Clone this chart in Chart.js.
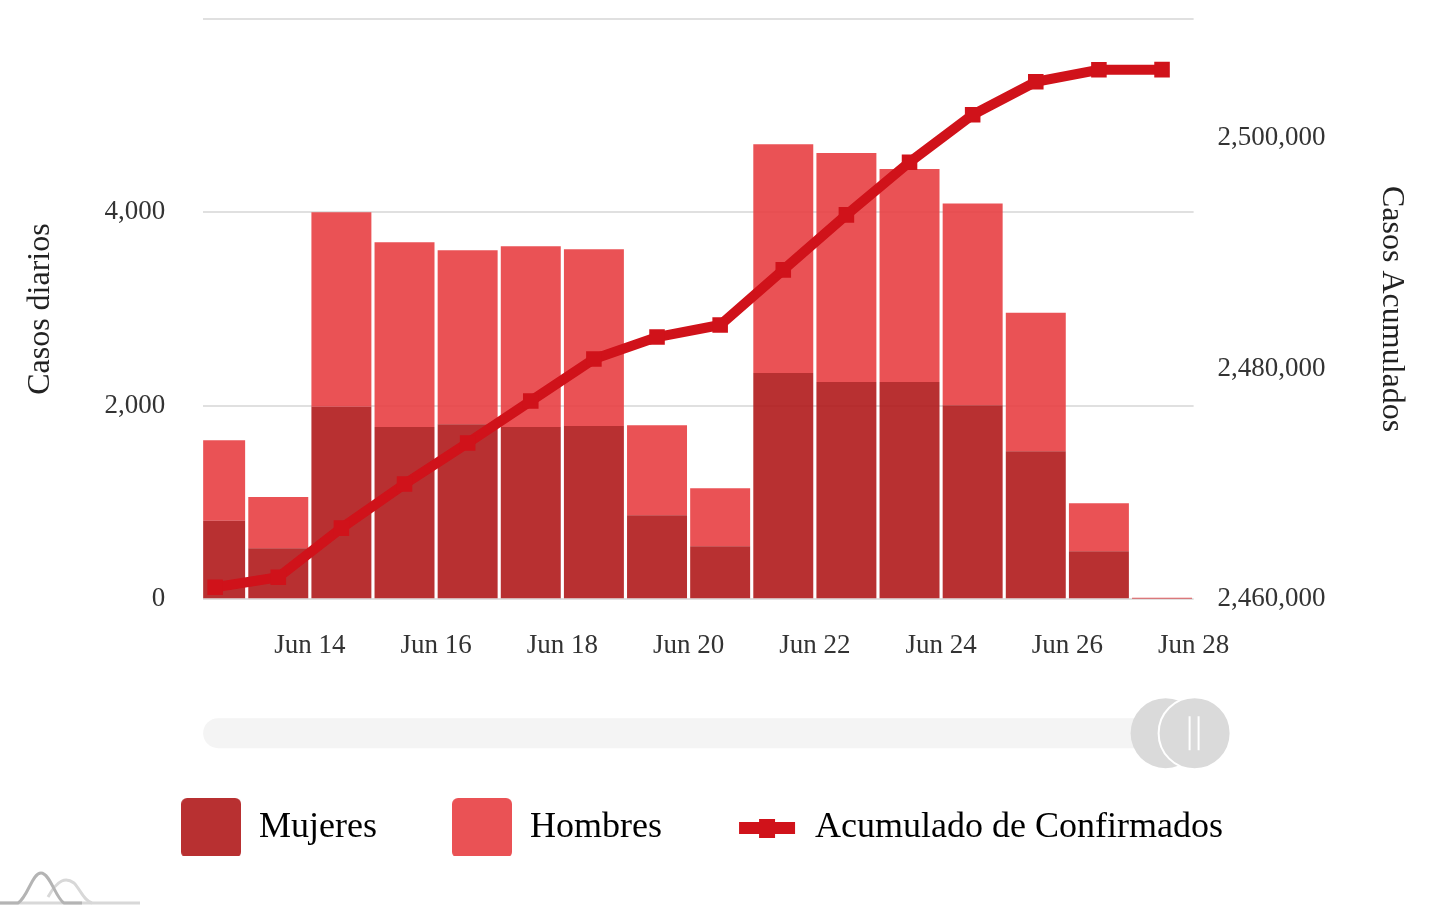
<!DOCTYPE html>
<html>
<head>
<meta charset="utf-8">
<script src="https://cdn.jsdelivr.net/npm/chart.js@4"></script>
<style>
  html, body { margin: 0; padding: 0; background: #fff; }
  #wrap { width: 1436px; height: 924px; }
</style>
</head>
<body>
<div id="wrap"><canvas id="myChart" width="1436" height="924"></canvas></div>
<script>
'use strict';

// days of June, one bar per day
let days = [12, 13, 14, 15, 16, 17, 18, 19, 20, 21, 22, 23, 24, 25, 26, 27];
let mujeres = [810, 527, 1989, 1782, 1810, 1782, 1792, 869, 548, 2340, 2247, 2247, 2006, 1530, 496, 8];
let hombres = [834, 531, 2013, 1910, 1799, 1868, 1827, 930, 600, 2365, 2368, 2203, 2086, 1431, 497, 6];
let acumulado = [2461040, 2461910, 2466160, 2469980, 2473540, 2477180, 2480820, 2482730, 2483770,
  2488550, 2493320, 2497880, 2502000, 2504860, 2505900, 2505910];

let tickDays = [14, 16, 18, 20, 22, 24, 26, 28];
let leftTicks = [0, 2000, 4000, 6000];
let rightTicks = [2460000, 2480000, 2500000];

let colorMujeres = 'rgba(176, 25, 27, 0.9)';
let colorHombres = 'rgba(232, 63, 67, 0.9)';
let colorLinea = '#d0121a';

Chart.defaults.font.family = "'Liberation Serif', 'Times New Roman', serif";
Chart.defaults.color = '#333';

// a bar sits in the middle of its day
function points(values) {
  let arr = [];
  for (let i = 0; i < days.length; i++) {
    arr.push({ x: days[i] + 0.5, y: values[i] });
  }
  return arr;
}

function fmt(v) {
  return Number(v).toLocaleString('en-US');
}

function boxIcon(color) {
  let c = document.createElement('canvas');
  c.width = 60; c.height = 60;
  let g = c.getContext('2d');
  g.fillStyle = color;
  g.beginPath();
  g.roundRect(0, 0, 60, 60, 6);
  g.fill();
  return c;
}

function lineIcon(color) {
  let c = document.createElement('canvas');
  c.width = 60; c.height = 60;
  let g = c.getContext('2d');
  g.fillStyle = color;
  g.fillRect(2, 24, 56, 12);
  g.fillRect(22, 21, 16, 19);
  return c;
}

// scrollbar + small logo, only decoration
let decorPlugin = {
  id: 'decor',
  afterDraw(chart) {
    let ctx = chart.ctx;
    let a = chart.chartArea;
    let cy = a.bottom + 134;
    ctx.save();
    ctx.fillStyle = '#f4f4f4';
    ctx.beginPath();
    ctx.roundRect(a.left, cy - 15, a.right - a.left - 20, 30, 15);
    ctx.fill();

    ctx.fillStyle = '#dadada';
    ctx.beginPath();
    ctx.arc(a.right - 28, cy, 35, 0, Math.PI * 2);
    ctx.fill();
    ctx.beginPath();
    ctx.arc(a.right + 1, cy, 36, 0, Math.PI * 2);
    ctx.fill();
    ctx.strokeStyle = '#fff';
    ctx.lineWidth = 2;
    ctx.stroke();
    ctx.beginPath();
    ctx.moveTo(a.right - 4, cy - 17); ctx.lineTo(a.right - 4, cy + 17);
    ctx.moveTo(a.right + 5, cy - 17); ctx.lineTo(a.right + 5, cy + 17);
    ctx.stroke();

    // logo
    let by = chart.height - 21;
    ctx.lineWidth = 3;
    ctx.strokeStyle = '#d8d8d8';
    ctx.beginPath();
    ctx.moveTo(0, by);
    ctx.lineTo(140, by);
    ctx.stroke();
    ctx.beginPath();
    ctx.moveTo(48, by - 6);
    ctx.bezierCurveTo(58, by - 24, 66, by - 26, 74, by - 20);
    ctx.bezierCurveTo(80, by - 14, 84, by - 2, 92, by);
    ctx.stroke();
    ctx.strokeStyle = '#b4b4b4';
    ctx.beginPath();
    ctx.moveTo(0, by);
    ctx.lineTo(18, by);
    ctx.bezierCurveTo(28, by - 6, 32, by - 30, 41, by - 30);
    ctx.bezierCurveTo(50, by - 30, 56, by - 4, 64, by);
    ctx.lineTo(82, by);
    ctx.stroke();
    ctx.restore();
  }
};

let ctx = document.getElementById('myChart').getContext('2d');
let chart = new Chart(ctx, {
  type: 'bar',
  data: {
    datasets: [{
      label: 'Mujeres',
      data: points(mujeres),
      backgroundColor: colorMujeres,
      yAxisID: 'y',
      order: 1
    }, {
      label: 'Hombres',
      data: points(hombres),
      backgroundColor: colorHombres,
      yAxisID: 'y',
      order: 1
    }, {
      type: 'line',
      label: 'Acumulado de Confirmados',
      data: points(acumulado),
      yAxisID: 'y1',
      borderColor: colorLinea,
      backgroundColor: colorLinea,
      borderWidth: 10,
      pointStyle: 'rect',
      pointRadius: 11,
      pointBorderWidth: 0,
      pointBackgroundColor: colorLinea,
      tension: 0,
      order: 0
    }]
  },
  options: {
    responsive: false,
    animation: false,
    layout: { padding: { top: 19, left: 0, right: 32, bottom: 68 } },
    datasets: { bar: { barPercentage: 0.95, categoryPercentage: 1 } },
    plugins: {
      tooltip: { enabled: false },
      legend: {
        position: 'bottom',
        labels: {
          usePointStyle: true,
          pointStyleWidth: 60,
          padding: 75,
          color: '#222',
          font: { size: 36 },
          generateLabels: function (chart) {
            return [
              { text: 'Mujeres', pointStyle: boxIcon(colorMujeres), datasetIndex: 0, lineWidth: 0, hidden: false },
              { text: 'Hombres', pointStyle: boxIcon(colorHombres), datasetIndex: 1, lineWidth: 0, hidden: false },
              { text: 'Acumulado de Confirmados', pointStyle: lineIcon(colorLinea), datasetIndex: 2, lineWidth: 0, hidden: false }
            ];
          }
        }
      }
    },
    scales: {
      x: {
        type: 'linear',
        stacked: true,
        offset: false,
        min: 12.31,
        max: 28,
        afterBuildTicks: function (axis) {
          axis.ticks = tickDays.map(d => ({ value: d }));
        },
        ticks: {
          padding: 31,
          autoSkip: false,
          maxRotation: 0,
          font: { size: 27 },
          callback: v => 'Jun ' + v
        },
        grid: { display: false, drawTicks: false },
        border: { display: false },
        title: { display: true, text: ' ', color: 'rgba(0,0,0,0)', font: { size: 27 }, padding: { top: 0, bottom: 9 } }
      },
      y: {
        position: 'left',
        stacked: true,
        min: 0,
        max: 6000,
        afterBuildTicks: function (axis) {
          axis.ticks = leftTicks.map(v => ({ value: v }));
        },
        ticks: {
          padding: 0,
          font: { size: 27 },
          callback: v => (v === 6000 ? '' : fmt(v))
        },
        // invisible tick marks give the gap between labels and plot
        grid: { color: '#e0e0e0', lineWidth: 2, drawTicks: true, tickLength: 38, tickColor: 'rgba(0,0,0,0)' },
        border: { display: false },
        title: { display: true, text: 'Casos diarios', color: '#222', font: { size: 32 }, padding: { top: 21, bottom: 45 } }
      },
      y1: {
        position: 'right',
        min: 2460000,
        max: 2510300,
        afterBuildTicks: function (axis) {
          axis.ticks = rightTicks.map(v => ({ value: v }));
        },
        ticks: {
          padding: 0,
          font: { size: 27 },
          callback: v => fmt(v)
        },
        grid: { drawOnChartArea: false, color: 'rgba(0,0,0,0)', drawTicks: true, tickLength: 24, tickColor: 'rgba(0,0,0,0)' },
        border: { display: false },
        title: { display: true, text: 'Casos Acumulados', color: '#222', font: { size: 32 }, padding: { top: -7, bottom: 47 } }
      }
    }
  },
  plugins: [decorPlugin]
});
</script>
</body>
</html>
